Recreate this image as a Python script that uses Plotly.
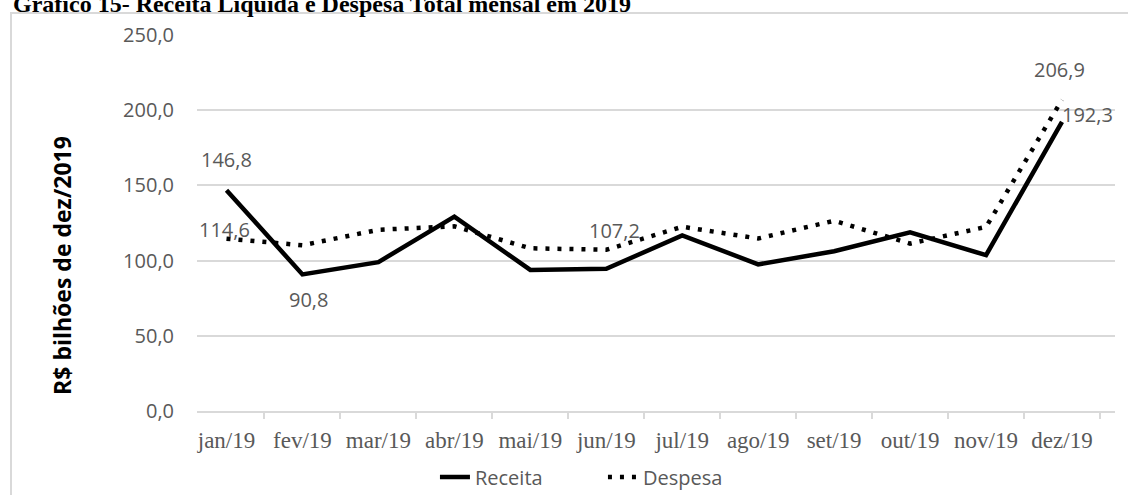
import plotly.graph_objects as go

months = ["jan/19", "fev/19", "mar/19", "abr/19", "mai/19", "jun/19",
          "jul/19", "ago/19", "set/19", "out/19", "nov/19", "dez/19"]
receita = [146.8, 90.8, 99.0, 129.2, 93.8, 94.5, 116.8, 97.5, 106.2, 118.8, 103.6, 192.3]
despesa = [114.6, 110.2, 120.5, 122.8, 108.2, 107.2, 122.5, 114.7, 126.5, 111.3, 122.4, 206.9]
y_ticks = [0, 50, 100, 150, 200, 250]

GRID = "#d9d9d9"
TXT = "#595959"

fig = go.Figure()
fig.add_trace(go.Scatter(x=months, y=receita, name="Receita", mode="lines",
                         line=dict(color="black", width=4.5)))
fig.add_trace(go.Scatter(x=months, y=despesa, name="Despesa", mode="lines",
                         line=dict(color="black", width=4.5, dash="4px,8px")))

# data labels: (series, index, xshift, yshift, xanchor)
labels = [
    (receita, 0, 0, 31, "center"),
    (despesa, 0, -2, 9, "center"),
    (receita, 1, 6, -25, "center"),
    (despesa, 5, 8, 19, "center"),
    (despesa, 11, -3, 30, "center"),
    (receita, 11, -2, 7, "left"),
]
for ser, i, xs, ys, xa in labels:
    fig.add_annotation(x=months[i], y=ser[i], xref="x", yref="y",
                       text=f"{ser[i]:.1f}".replace(".", ","), showarrow=False,
                       xshift=xs, yshift=ys, xanchor=xa, yanchor="middle",
                       font=dict(family="Open Sans", size=20, color=TXT))

# title
fig.add_annotation(x=-0.2026, y=1.0835, xref="paper", yref="paper", xanchor="left", yanchor="middle",
                   text="<b>Gráfico 15- Receita Líquida e Despesa Total mensal em 2019</b>",
                   showarrow=False,
                   font=dict(family="Liberation Serif", size=24, color="black"))
# y axis title
fig.add_annotation(x=-0.147, y=0.386, xref="paper", yref="paper", xanchor="center", yanchor="middle",
                   text="<b>R$ bilhões de dez/2019</b>", textangle=-90, showarrow=False,
                   font=dict(family="Open Sans", size=23, color="black"))

# chart border
fig.add_shape(type="rect", xref="paper", yref="paper", x0=-0.2026, x1=1.2, y0=-0.3, y1=1.0585,
              line=dict(color=GRID, width=2), fillcolor="rgba(0,0,0,0)")

fig.update_layout(
    width=1128, height=495,
    margin=dict(l=197, r=13, t=35, b=84, autoexpand=False),
    paper_bgcolor="white", plot_bgcolor="white",
    separators=",.",
    showlegend=True,
    legend=dict(orientation="h", xref="container", yref="container",
                x=0.3856, xanchor="left", y=0.0364, yanchor="middle",
                entrywidth=123, entrywidthmode="pixels",
                font=dict(family="Open Sans", size=20, color=TXT), bgcolor="rgba(0,0,0,0)"),
    xaxis=dict(tickson="boundaries", ticks="outside", ticklen=6, tickcolor=GRID, tickwidth=1.5,
               showline=True, linecolor=GRID, linewidth=1.5, showgrid=False, automargin=False,
               tickfont=dict(family="Liberation Serif", size=23, color=TXT),
               ticklabelstandoff=8, fixedrange=True),
    yaxis=dict(range=[0, 250], tickvals=y_ticks, tickformat=".1f", showgrid=True,
               gridcolor=GRID, gridwidth=1.5, zeroline=False, showline=False, automargin=False,
               tickfont=dict(family="Open Sans", size=20, color=TXT),
               ticklabelstandoff=22),
)

fig.write_html("out.html")
